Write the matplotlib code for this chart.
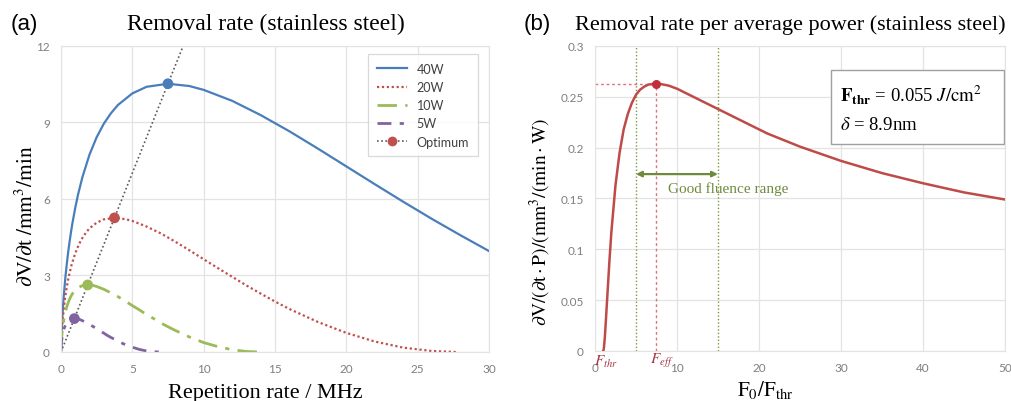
import matplotlib
matplotlib.use("Agg")
import matplotlib.pyplot as plt
from matplotlib.lines import Line2D
from matplotlib.patches import Rectangle

plt.rcParams["mathtext.fontset"] = "stix"
plt.rcParams["font.family"] = ["Liberation Serif", "DejaVu Serif"]

# -------------------------
# Data: removal rate vs repetition rate (MHz -> mm^3/min)
# -------------------------
freq_40w = [0.01, 0.02, 0.03, 0.05, 0.1, 0.15, 0.2, 0.3, 0.4, 0.5, 0.6, 0.7, 0.8, 1, 1.2,
            1.5, 2, 2.5, 3, 3.5, 4, 5, 6, 7.5, 9, 10, 12, 14, 16, 18, 20, 22, 24, 26, 28, 30]
rate_40w = [0.26, 0.44, 0.60, 0.86, 1.40, 1.84, 2.22, 2.87, 3.41, 3.89, 4.31, 4.69, 5.04,
            5.65, 6.18, 6.85, 7.74, 8.42, 8.95, 9.36, 9.69, 10.14, 10.40, 10.52, 10.43,
            10.28, 9.85, 9.29, 8.66, 7.98, 7.28, 6.58, 5.89, 5.22, 4.58, 3.96]

freq_20w = [0.005, 0.01, 0.015, 0.025, 0.05, 0.075, 0.1, 0.15, 0.2, 0.25, 0.3, 0.35, 0.4,
            0.5, 0.6, 0.75, 1, 1.25, 1.5, 1.75, 2, 2.5, 3, 3.75, 4.5, 5, 6, 7, 8, 9, 10, 11,
            12, 13, 14, 15, 16, 18, 20, 22, 24, 26, 27.7]
rate_20w = [0.13, 0.22, 0.30, 0.43, 0.70, 0.92, 1.11, 1.43, 1.71, 1.94, 2.16, 2.35, 2.52,
            2.83, 3.09, 3.43, 3.87, 4.21, 4.47, 4.68, 4.85, 5.07, 5.20, 5.26, 5.21, 5.14,
            4.92, 4.65, 4.33, 3.99, 3.64, 3.29, 2.95, 2.61, 2.29, 1.98, 1.69, 1.18, 0.75,
            0.41, 0.17, 0.04, 0]

freq_10w = [0.0025, 0.005, 0.0075, 0.025, 0.0375, 0.05, 0.075, 0.1, 0.125, 0.15, 0.175,
            0.2, 0.25, 0.3, 0.375, 0.5, 0.625, 0.75, 0.875, 1, 1.25, 1.5, 1.875, 2.25, 2.5,
            3, 3.5, 4, 4.5, 5, 5.5, 6, 6.5, 7, 7.5, 8, 9, 10, 11, 12, 13, 13.9]
rate_10w = [0.07, 0.11, 0.15, 0.35, 0.46, 0.56, 0.72, 0.85, 0.97, 1.08, 1.17, 1.26, 1.41,
            1.55, 1.71, 1.93, 2.10, 2.24, 2.34, 2.42, 2.54, 2.60, 2.63, 2.61, 2.57, 2.46,
            2.32, 2.17, 2.00, 1.82, 1.65, 1.47, 1.31, 1.14, 0.99, 0.85, 0.59, 0.37, 0.21,
            0.09, 0.02, 0]

freq_5w = [0.00125, 0.0025, 0.00375, 0.01875, 0.025, 0.0375, 0.05, 0.0625, 0.075, 0.0875,
           0.1, 0.125, 0.15, 0.1875, 0.25, 0.3125, 0.375, 0.4375, 0.5, 0.625, 0.75, 0.94,
           1.125, 1.25, 1.5, 1.75, 2, 2.25, 2.5, 2.75, 3, 3.25, 3.5, 3.75, 4, 4.5, 5, 5.5,
           6, 6.5, 6.93]
rate_5w = [0.03, 0.06, 0.07, 0.23, 0.28, 0.36, 0.43, 0.49, 0.54, 0.59, 0.63, 0.71, 0.77,
           0.86, 0.97, 1.05, 1.12, 1.17, 1.21, 1.27, 1.30, 1.31, 1.30, 1.29, 1.23, 1.16,
           1.08, 1.00, 0.91, 0.82, 0.74, 0.65, 0.57, 0.50, 0.42, 0.29, 0.19, 0.10, 0.04,
           0.01, 0]

opt_freq = [0, 0.94, 1.875, 3.75, 7.5, 9.0]
opt_rate = [0, 1.31, 2.63, 5.26, 10.52, 12.6]
opt_marker_freq = [0.94, 1.875, 3.75, 7.5]
opt_marker_rate = [1.31, 2.63, 5.26, 10.52]

# -------------------------
# Data: removal rate per average power vs F0/Fthr
# -------------------------
fluence_ratio = [1, 1.05, 1.1, 1.2, 1.3, 1.5, 1.75, 2, 2.5, 3, 3.5, 4, 4.5, 5, 5.5, 6,
                 6.5, 7.39, 8, 9, 10, 11, 13, 15, 18, 21, 25, 30, 35, 40, 45, 50]
rate_per_power = [0, 0.001, 0.004, 0.013, 0.026, 0.053, 0.087, 0.117, 0.163, 0.195,
                  0.218, 0.233, 0.244, 0.252, 0.257, 0.260, 0.262, 0.263, 0.2626, 0.261,
                  0.258, 0.254, 0.246, 0.238, 0.226, 0.214, 0.201, 0.187, 0.175, 0.165,
                  0.156, 0.149]
f_eff = 7.39
peak_rate = 0.263
good_range = [5, 15]

BLUE = "#4A7EBB"
RED = "#C0504D"
GREEN = "#9BBB59"
PURPLE = "#8064A2"
TICK_COLOR = "#7F7F7F"
GRID_COLOR = "#E3E3E3"


def style_axes(ax):
    ax.grid(True, color=GRID_COLOR, lw=0.9)
    ax.set_axisbelow(True)
    for side in ax.spines.values():
        side.set_color(GRID_COLOR)
    ax.tick_params(length=0, pad=8, labelsize=8.5, labelcolor=TICK_COLOR)
    for lbl in ax.get_xticklabels() + ax.get_yticklabels():
        lbl.set_fontfamily("Lato")


fig = plt.figure(figsize=(10.11, 4.02), dpi=100)

# -------------------------
# (a) Removal rate
# -------------------------
ax1 = fig.add_axes([0.0603, 0.1219, 0.4233, 0.7612])
ax1.plot(freq_40w, rate_40w, color=BLUE, lw=1.6, label="40W")
ax1.plot(freq_20w, rate_20w, color=RED, lw=1.6, ls=(0, (1, 1.2)), label="20W")
ax1.plot(freq_10w, rate_10w, color=GREEN, lw=2.0, ls=(0, (7, 3, 1.5, 3)), label="10W")
ax1.plot(freq_5w, rate_5w, color=PURPLE, lw=2.0, ls=(0, (5, 3, 1.5, 3)), label="5W")
ax1.plot(opt_freq, opt_rate, color="#595959", lw=1.2, ls=(0, (1, 1.5)))
ax1.scatter(opt_marker_freq, opt_marker_rate, s=45, zorder=5,
            color=[PURPLE, GREEN, RED, BLUE])
ax1.set_xlim(0, 30)
ax1.set_ylim(0, 12)
ax1.set_xticks([0, 5, 10, 15, 20, 25, 30])
ax1.set_yticks([0, 3, 6, 9, 12])
style_axes(ax1)
ax1.set_xlabel("Repetition rate / MHz", fontsize=16)
ax1.xaxis.set_label_coords(0.477, -0.1)
ax1.set_ylabel(r"$\partial\mathrm{V}/\partial\mathrm{t}\;/\mathrm{mm}^3/\mathrm{min}$",
               fontsize=15.5)
ax1.yaxis.set_label_coords(-0.054, 0.448)

handles, labels = ax1.get_legend_handles_labels()
handles.append(Line2D([], [], color="#595959", lw=1.2, ls=(0, (1, 1.5)),
                      marker="o", markersize=6, markerfacecolor=RED,
                      markeredgecolor=RED))
labels.append("Optimum")
leg = ax1.legend(handles, labels, loc="upper right", bbox_to_anchor=(0.974, 0.974),
                 borderaxespad=0, fancybox=False, edgecolor="#D0D0D0",
                 prop={"family": "Lato", "size": 9}, labelcolor="#404040",
                 handlelength=2.4, labelspacing=0.5, borderpad=0.7)
leg.get_frame().set_linewidth(0.9)

# -------------------------
# (b) Removal rate per average power
# -------------------------
ax2 = fig.add_axes([0.5885, 0.1244, 0.4055, 0.7587])
for x in good_range:
    ax2.axvline(x, color="#7A9A3A", lw=1.0, ls=(0, (1, 1.5)), zorder=2)
ax2.plot([0, f_eff], [peak_rate, peak_rate], color="#E0707F", lw=1.0,
         ls=(0, (2, 2)), zorder=2)
ax2.plot([f_eff, f_eff], [0, peak_rate], color="#E0707F", lw=1.0,
         ls=(0, (2, 2)), zorder=2)
ax2.plot(fluence_ratio, rate_per_power, color="#BE4B48", lw=1.8, zorder=3)
ax2.scatter([f_eff], [peak_rate], s=30, color="#C0303A", zorder=5)
ax2.annotate("", xy=(good_range[0], 0.174), xytext=(good_range[1], 0.174),
             arrowprops=dict(arrowstyle="<|-|>", color="#6E8B3D", lw=1.6,
                             mutation_scale=8, shrinkA=0, shrinkB=0))
ax2.text(8.9, 0.160, "Good fluence range", color="#6E8B3D", fontsize=11,
         va="center", ha="left")
ax2.text(1.4, -0.0095, r"$F_{thr}$", color="#A83240", fontsize=11,
         ha="center", va="center")
ax2.text(8.2, -0.0085, r"$F_{eff}$", color="#A83240", fontsize=11,
         ha="center", va="center")
ax2.set_xlim(0, 50)
ax2.set_ylim(0, 0.3)
ax2.set_xticks([0, 10, 20, 30, 40, 50])
ax2.set_yticks([0, 0.05, 0.1, 0.15, 0.2, 0.25, 0.3])
ax2.set_yticklabels(["0", "0.05", "0.1", "0.15", "0.2", "0.25", "0.3"])
style_axes(ax2)
ax2.set_xlabel(r"$\mathrm{F_0/F_{thr}}$", fontsize=15)
ax2.xaxis.set_label_coords(0.415, -0.09)
ax2.set_ylabel(r"$\partial\mathrm{V}/(\partial\mathrm{t}\cdot\mathrm{P})/(\mathrm{mm}^3/(\mathrm{min}\cdot\mathrm{W})$",
               fontsize=14)
ax2.yaxis.set_label_coords(-0.102, 0.426)

ax2.add_patch(Rectangle((0.576, 0.679), 0.422, 0.242, transform=ax2.transAxes,
                        facecolor="white", edgecolor="#A0A0A0", lw=1.0, zorder=6))
ax2.text(0.598, 0.843, r"$\mathbf{F_{thr}}$ = 0.055 $J/\mathrm{cm}^2$",
         transform=ax2.transAxes, fontsize=13.5, va="center", zorder=7)
ax2.text(0.598, 0.744, r"$\delta$ = 8.9nm", transform=ax2.transAxes,
         fontsize=13.5, va="center", zorder=7)

# -------------------------
# Panel titles
# -------------------------
fig.text(0.0237, 0.938, "(a)", family="Liberation Sans", fontsize=16,
         ha="center", va="center")
fig.text(266 / 1011, 0.938, "Removal rate (stainless steel)", fontsize=17,
         ha="center", va="center")
fig.text(537 / 1011, 0.938, "(b)", family="Liberation Sans", fontsize=16,
         ha="center", va="center")
fig.text(790 / 1011, 0.938, "Removal rate per average power (stainless steel)",
         fontsize=16, ha="center", va="center")

fig.savefig("out.png", dpi=100)
